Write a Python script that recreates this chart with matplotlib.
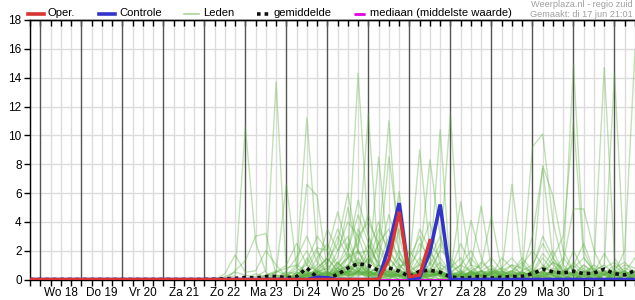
import matplotlib
matplotlib.use("Agg")
import matplotlib.pyplot as plt
from matplotlib.lines import Line2D
import numpy as np

plt.rcParams['font.family'] = ['Liberation Sans', 'DejaVu Sans']

# ---------------- data ----------------
step_hours = 6
n_steps = 60                      # 17 jun 18:00 .. 2 jul 12:00, every 6 h
day_labels = ["Wo 18", "Do 19", "Vr 20", "Za 21", "Zo 22", "Ma 23", "Di 24",
              "Wo 25", "Do 26", "Vr 27", "Za 28", "Zo 29", "Ma 30", "Di 1"]
y_ticks = [0, 2, 4, 6, 8, 10, 12, 14, 16, 18]

# operational run (ends 27 jun 12:00)
oper = [0]*34 + [0, 1.4, 4.7, 0.2, 0.3, 2.7]
# control run
controle = ([0]*28 + [0.15, 0.12, 0, 0, 0, 0, 0, 2.3, 5.3, 0, 0.15, 1.9, 5.2, 0]
            + [0]*18)
# ensemble mean
gemiddelde = ([0]*17 +
              [0, 0.02, 0.05, 0.08, 0.14, 0.1, 0.2, 0.22, 0.12, 0.2, 0.8, 0.15,
               0.05, 0.35, 0.8, 1.1, 0.97, 0.62, 0.8, 0.58, 0.2, 0.58, 0.65, 0.5,
               0.18, 0.1, 0.14, 0.23, 0.1, 0.16, 0.2, 0.22, 0.4, 0.72, 0.53, 0.45,
               0.58, 0.4, 0.45, 0.72, 0.4, 0.32, 0.62])
mediaan = [0]*60

# ensemble members from 22 jun 00:00 (earlier steps are zero)
members_start = 17
leden = [
    [0,0,0,0.3, 10.6,2.6,0.5,0, 0,0,0.2,0.5, 0.3,1.2,0.4,0, 0,0.5,1.0,0.2, 0,0,0.3,0, 0,0,0.4,0.2, 0,0,0,0.5, 0.3,0,0,0.2, 0,0.4,0,0, 0,0.3,0],
    [0,0,0.2,0.5, 0.3,0.2,0.6,13.7, 0.4,0,0,0.8, 1.5,0.5,0,2.0, 0.6,0,0,0.4, 0,1.0,0.5,0, 0,0.3,0,0, 0,0.2,0,0, 0,0.5,1.2,0, 0.3,0,0,0.4, 0,0,0.2],
    [0,0,0,0, 0,0,0.3,0.5, 0.8,1.0,11.2,2.0, 0.2,0,0.6,1.4, 0.3,0,0.2,0, 0,0,0,0.5, 0.2,0,0,0.3, 0,0,0,0, 0,1.0,0.3,0, 0,0.2,0.6,0, 0,0,0.3],
    [0,0,0,0, 0,0.4,0.2,0.5, 6.6,0.8,0.3,0, 0,0.5,1.8,0.6, 0,0.2,0,0.8, 0,0,1.2,0.3, 0,0,0.5,0, 0.2,0,0,0, 0.3,0,0,0.5, 0,0,0.2,0, 0.5,0,0],
    [0,0,0,0, 0,0,0,0.2, 0.5,0.4,6.6,5.8, 0.5,0.3,0,0.5, 1.5,0.8,0,0, 0,0.3,0,0, 0,0,0.6,0.2, 0,0,0.4,0, 0,0,0.5,0, 0,0,0,0.3, 0,0.2,0],
    [0,0,0,0.6, 1.3,3.0,3.2,0.3, 0,0.2,0.5,0, 0,0.8,0.4,0.2, 0.6,0,0.3,0, 0,0,0.2,0.4, 0,0,0,0, 0.5,0,0,0, 0,0.2,0,0, 0.4,0,0,0, 0,0,0.5],
    [0,0,0.4,1.7, 0.5,0.6,2.0,1.0, 0.2,0,1.5,0.4, 0,0.5,0.3,3.5, 1.8,0.4,0,0.6, 0.2,0,0.5,0.3, 0,0.2,0,0, 0,0.3,0.2,0, 0.6,0.2,0,0, 0,0.5,0.3,0, 0,0,0],
    [0,0,0,0, 0,0,0,0, 0.3,0.6,1.0,2.2, 2.0,4.7,2.0,0.6, 0.3,1.0,0.5,0, 0,0.4,0,0, 0.2,0.6,0,0, 0,0,0.5,0.3, 0,0,0,0.6, 1.0,0.3,0,0, 0.2,0,0],
    [0,0,0,0, 0,0,0.2,0, 0,0.3,0.4,0.6, 1.2,2.5,6.0,2.0, 0.5,0.3,1.5,0.6, 0,0,0.3,0.8, 0,0,0,0.4, 0.2,0,0,0, 0,0.6,0.3,0, 0,0,0.4,0, 0,0.3,0],
    [0,0,0,0, 0,0,0,0, 0,0.2,0.3,0.5, 0.4,0.8,1.5,14.3, 3.0,0.6,0.2,0.3, 0.5,0,0,0, 0.3,0,0.2,0, 0,0,0.4,0, 0,0,0,0.3, 0,0.6,0,0, 0,0,0.4],
    [0,0,0,0, 0,0,0,0.3, 0.2,0,0.4,0.2, 0,0.6,1.0,2.0, 11.5,1.0,0.4,0, 0.2,0.6,0,0, 0,0.4,0,0.3, 0,0,0,0.2, 0.5,0,0.3,0, 0,0,0.2,0.6, 0,0,0],
    [0,0,0,0, 0,0,0,0, 0.3,0,0,0.5, 0.8,0.3,0.5,1.2, 0.6,2.5,11.0,1.5, 0.3,0,0.8,0.2, 0,0,0.3,0, 0.4,0,0,0, 0,0.3,0,0.4, 0,0,0,0.3, 0.2,0,0],
    [0,0,0,0, 0,0,0,0, 0,0.4,0.6,0, 0.2,1.0,2.5,1.0, 0.5,8.5,1.0,0.3, 0,0.3,0.5,1.2, 0.4,0,0,0, 0,0.5,0,0, 0,0,0.8,0.3, 0,0,0,0, 0.4,0.6,0],
    [0,0,0,0, 0,0,0,0, 0,0,0.2,0.8, 1.5,0.6,0.3,0.5, 2.0,1.2,8.5,3.0, 0.2,0,0,0, 0.5,0.2,0,0.6, 0,0,0.3,0, 0,0.4,0,0, 0.6,0,0.2,0, 0,0,0.3],
    [0,0,0,0, 0,0,0,0.2, 0,0.5,0.3,0, 0,0.4,0.8,3.0, 4.0,2.5,1.0,6.1, 1.0,0.3,0,0.4, 0,0,0.5,0.2, 0,0,0,0.4, 0,0,0.2,0, 0,0.3,0,0, 0,0.5,0],
    [0,0,0,0, 0,0,0,0, 0,0,0,0.3, 0.5,0.2,0,0.6, 0.8,0.4,2.0,1.0, 1.0,9.0,2.0,0.5, 0,0.3,0,0, 0.6,0.2,0,0, 0.4,0,0,0.2, 0,0,0.5,0, 0,0,0.2],
    [0,0,0,0, 0,0,0,0, 0.2,0,0.5,0, 0,0.8,0.4,1.2, 0.3,0.6,0.5,2.0, 0.3,1.2,8.3,3.0, 0.5,0,0.4,0, 0,0.3,0,0.6, 0,0.2,0.5,0, 0,0,0,0.4, 0.3,0,0],
    [0,0,0,0, 0,0,0,0, 0,0.3,0,0.4, 0.2,0.3,1.5,0.8, 0.4,0.2,0.6,0.3, 0.2,0.5,1.0,10.4, 0.5,0.2,0,0.3, 0,0,0.2,0, 0.6,0,0,0, 0.2,0,0.4,0, 0,0,0.6],
    [0,0,0,0, 0,0,0,0, 0,0,0.4,0.6, 0.3,0.5,0.2,0.6, 1.5,0.4,0.3,0.5, 0,0.3,0.6,2.0, 11.5,0.3,0,0.2, 0,0.4,0,0, 0,0.3,0.6,0, 0,0,0.3,0, 0.5,0,0],
    [0,0,0,0, 0,0,0,0, 0,0,0,0.3, 0.6,0.2,0.5,1.0, 0.5,0.8,0.2,0.4, 0.6,0.2,0.4,0.3, 0.5,5.4,1.0,0.2, 0.4,0,0.3,0, 0,0,0.2,0.5, 0.3,0,0,0, 0,0.4,0],
    [0,0,0,0, 0,0,0,0, 0,0.2,0.3,0, 0.3,0.6,1.0,0.4, 0.2,0.5,0.8,0.2, 0,0.4,0.6,0.2, 0.3,0.6,4.1,1.5, 0.3,0,0,0.5, 0.2,0,0,0, 0,0.2,0,0.6, 0,0,0],
    [0,0,0,0, 0,0,0,0, 0.4,0,0.2,0.5, 1.0,0.4,0.6,0.3, 0.6,0.3,0.2,1.0, 0.3,0.6,0.3,0.5, 0,0.4,1.0,5.1, 0.8,0.2,0,0, 0.3,0.6,0,0, 0,0.5,0,0, 0.3,0,0.2],
    [0,0,0,0, 0,0,0,0, 0,0.3,0.6,0.3, 0.2,1.2,0.4,0.6, 0.3,0,0.4,0.6, 0.5,0.3,0.2,0.4, 0.3,0,0.6,1.0, 4.4,0.6,0.3,0, 0,0.4,0.3,0, 0.5,0,0,0.3, 0,0,0],
    [0,0,0,0, 0,0,0,0, 0,0,0.3,0.6, 0.5,0.2,1.0,0.5, 0.2,0.6,0.3,0.2, 0.4,0,0.5,0.6, 0.2,0.4,0.3,0.5, 0.6,0.5,6.6,1.0, 0.4,0.2,0.6,0.3, 0,0.4,0,0, 0.6,0.3,0],
    [0,0,0,0, 0,0,0,0, 0,0,0,0.2, 0.5,0.3,0.6,1.5, 0.6,0.3,0.5,0.2, 0,0.3,0.5,0.2, 0.4,0.2,0.5,0.3, 0,0.3,0.2,0.5, 9.2,10.1,4.0,1.0, 0.3,0.2,0,0.4, 0,0,0.3],
    [0,0,0,0, 0,0,0,0, 0,0.2,0.4,0, 0.3,0.5,0.8,0.6, 0.4,1.0,0.2,0.3, 0.2,0.5,0.3,0.6, 0,0.3,0.2,0.4, 0.3,0.6,0.2,0.3, 0.5,7.9,5.8,2.0, 0.6,0.3,0.5,0, 0.4,0,0],
    [0,0,0,0, 0,0,0,0, 0,0,0.3,0.5, 0.2,0.6,0.4,0.8, 0.3,0.6,0.3,0.2, 0.4,0.3,0.6,0.5, 0.2,0,0.3,0.6, 0.2,0.4,0.3,0.6, 3.0,7.7,1.5,0.4, 0.3,0.8,0.2,0.5, 0.3,0.6,0],
    [0,0,0,0, 0,0,0,0, 0,0,0,0.3, 0.4,0.3,0.6,0.5, 0.6,0.2,0.4,0.3, 0.2,0.4,0.3,0.5, 0.3,0.4,0.2,0.3, 0.5,0.3,0.6,0.2, 0.4,0.5,0.3,1.0, 14.9,2.0,0.5,0.3, 0.6,0.2,0.4],
    [0,0,0,0, 0,0,0,0, 0,0,0.2,0.4, 0.3,0.5,0.2,0.6, 0.3,0.4,0.6,0.2, 0.3,0.5,0.2,0.4, 0.6,0.3,0.5,0.2, 0.4,0.6,0.3,0.5, 0.2,0.6,1.5,3.0, 11.0,1.5,0.6,0.4, 0.3,0.6,0.2],
    [0,0,0,0, 0,0,0,0, 0,0,0,0.3, 0.2,0.4,0.3,0.5, 0.2,0.3,0.5,0.6, 0.4,0.2,0.3,0.4, 0.2,0.5,0.3,0.6, 0.2,0.4,0.6,0.3, 0.5,0.2,0.4,0.6, 0.3,0.5,1.0,14.7, 1.5,0.4,0.6],
    [0,0,0,0, 0,0,0,0, 0,0.2,0.3,0.2, 0.5,0.3,0.6,0.4, 0.3,0.5,0.2,0.4, 0.6,0.3,0.2,0.5, 0.3,0.2,0.5,0.3, 0.6,0.2,0.4,0.5, 0.2,0.3,0.6,0.4, 0.5,0.2,0.6,1.0, 14.3,0.5,0.3],
    [0,0,0,0, 0,0,0,0, 0,0,0.4,0.3, 0.2,0.6,0.3,0.4, 0.6,0.2,0.4,0.3, 0.5,0.4,0.3,0.6, 0.2,0.4,0.3,0.5, 0.2,0.5,0.3,0.2, 0.6,0.4,0.3,0.5, 0.2,0.6,0.3,0.4, 0.5,2.0,15.9],
    [0,0,0,0, 0,0,0,0, 0,0.3,0.2,0.5, 0.4,0.2,0.5,0.3, 0.5,0.3,0.6,0.2, 0.3,0.6,0.5,0.3, 0.4,0.2,0.6,0.3, 0.5,0.3,0.2,0.4, 0.3,0.5,0.4,1.2, 4.9,4.9,2.0,0.5, 0.3,0.4,0.6],
    [0,0,0,0, 0,0,0,0.5, 1.0,2.5,1.0,0.6, 1.5,3.5,2.0,4.5, 2.5,1.0,3.0,1.5, 0.5,2.5,1.5,0.6, 1.2,0.4,0.8,0.3, 0.5,0.8,1.5,0.6, 1.0,2.5,1.2,0.6, 0.8,1.5,0.6,1.0, 0.4,0.8,0.5],
    [0,0,0,0, 0,0,0,0, 0.6,1.5,3.0,1.2, 0.5,2.0,4.0,3.0, 1.0,3.5,2.0,0.8, 1.5,3.0,1.0,2.5, 0.8,1.5,0.4,0.6, 1.0,0.3,0.6,1.2, 0.4,1.5,0.6,0.3, 1.2,0.5,0.8,0.4, 1.0,0.3,0.6],
    [0,0,0,0, 0,0,0,0, 0,0.5,0.3,1.5, 2.5,1.0,2.0,5.5, 3.0,1.5,4.5,2.0, 0.6,1.0,2.5,1.5, 0.5,1.0,2.0,0.6, 0.3,1.5,0.8,0.4, 0.8,3.0,1.5,0.6, 0.4,1.0,0.5,1.8, 0.6,0.4,0.3],
    [0,0,0,0, 0,0,0.3,0.6, 0.3,1.0,0.6,2.0, 1.0,3.0,1.5,2.5, 4.5,2.0,1.0,3.5, 1.0,2.0,4.0,1.0, 0.6,2.5,1.0,0.8, 1.5,0.6,1.0,0.3, 0.6,0.8,2.0,0.5, 1.0,2.5,0.6,0.3, 0.8,1.2,0.4],
    [0,0,0,0, 0,0,0,0, 0.2,0.8,2.0,0.5, 0.8,1.5,5.0,1.8, 2.0,4.0,1.5,0.6, 2.0,1.0,1.5,3.0, 1.0,0.4,1.5,0.6, 0.3,0.8,0.4,1.0, 2.0,1.0,0.5,1.5, 0.6,0.3,1.0,0.6, 0.3,0.5,1.5],
    [0,0,0,0, 0,0,0,0, 0,0.3,1.2,3.0, 2.0,0.8,1.5,2.0, 1.0,2.5,3.5,1.0, 0.4,1.5,0.6,2.0, 1.5,0.6,0.3,1.2, 0.6,0.4,1.0,0.8, 0.5,1.8,1.0,0.4, 2.0,0.6,0.4,0.8, 1.2,0.5,0.3],
    [0,0,0,0, 0,0,0,0, 0,0,0.5,1.0, 3.5,2.0,3.0,1.0, 2.5,1.0,0.6,1.5, 0.8,3.5,2.0,0.8, 0.5,1.0,0.6,0.3, 0.8,0.3,0.5,1.5, 0.6,0.4,1.2,0.8, 0.3,1.0,0.4,0.6, 0.5,1.0,0.8],
]

# ---------------- figure ----------------
W, H = 635, 300
fig = plt.figure(figsize=(W/100, H/100), dpi=100)
ax = fig.add_axes([30/W, (H-279.5)/H, (W-30)/W, 259.5/H])

hours = np.arange(n_steps) * step_hours
x_end = hours[-1]

# grid
for yv in y_ticks[1:-1]:
    ax.axhline(yv, color='#dcdcdc', lw=1, zorder=0)
for h in np.arange(0, x_end + 1, 6):
    if (h - 6) % 24 == 0:
        ax.axvline(h, color='#555555', lw=1, zorder=0.5)
    else:
        ax.axvline(h, color='#dcdcdc', lw=1, zorder=0)

# members
for m in leden:
    full_y = np.concatenate([np.zeros(members_start), m])
    ax.plot(hours, full_y, color='#5cb040', alpha=0.38, lw=1.0, zorder=2)

ax.plot(hours, gemiddelde, color='#111111', lw=2.6, linestyle=(0, (1, 1.1)),
        dash_capstyle='butt', zorder=4)
ax.plot(hours, mediaan, color='#e000e0', lw=2.0, zorder=4.5)
ax.plot(hours, controle, color='#3333cc', lw=2.6, zorder=5, solid_joinstyle='miter')
ax.plot(hours[:len(oper)], oper, color='#d93333', lw=2.4, zorder=6, solid_joinstyle='miter')

ax.set_xlim(0, x_end)
ax.set_ylim(0, 18)
ax.set_yticks(y_ticks)
ax.set_yticklabels([str(v) for v in y_ticks], fontsize=8.5)

major_x = np.arange(0, x_end + 1, 6)
ax.set_xticks(major_x)
ax.set_xticklabels([])
centers = 6 + 12 + 24*np.arange(len(day_labels))
for c, lab in zip(centers, day_labels):
    ax.text(c, -0.03, lab, transform=ax.get_xaxis_transform(), ha='center',
            va='top', fontsize=8.5)

ax.tick_params(axis='x', direction='out', length=4.5, width=1, color='black',
               top=False, bottom=True)
ax.tick_params(axis='y', direction='out', length=4, width=1, pad=2)
sec = ax.secondary_xaxis('top')
sec.set_xticks(major_x)
sec.set_xticklabels([])
sec.tick_params(direction='in', length=4, width=1)
for s in ['left', 'top', 'bottom']:
    ax.spines[s].set_color('black')
    ax.spines[s].set_linewidth(1)
sec.spines['top'].set_linewidth(1)
ax.spines['right'].set_visible(False)

# legend (manual, figure pixel coordinates)
def px(x, y):
    return x / W, 1 - y / H

leg_y = 13.5
items = [
    (28, 44, "Oper.", dict(color='#d93333', lw=2.6)),
    (99, 115, "Controle", dict(color='#3333cc', lw=2.6)),
    (184, 199, "Leden", dict(color='#a8d69a', lw=1.2)),
    (257, 270, "gemiddelde", dict(color='#111111', lw=2.6, linestyle=(0, (1, 1.1)))),
    (354, 366, "mediaan (middelste waarde)", dict(color='#e000e0', lw=2.0, linestyle=(0, (4, 1.5, 0.6, 1.5)))),
]
for x0, x1, lab, kw in items:
    (fx0, fy), (fx1, _) = px(x0, leg_y), px(x1, leg_y)
    fig.add_artist(Line2D([fx0, fx1], [fy, fy], transform=fig.transFigure, **kw))
    fig.text(*px(x1 + 4, leg_y), lab, fontsize=8.1, va='center', ha='left')

fig.text(*px(633, 4.5), "Weerplaza.nl - regio zuid", fontsize=6.6,
         color='#a0a0a0', ha='right', va='center')
fig.text(*px(633, 14.5), "Gemaakt: di 17 jun 21:01", fontsize=6.6,
         color='#a0a0a0', ha='right', va='center')

fig.savefig("out.png", dpi=100)
